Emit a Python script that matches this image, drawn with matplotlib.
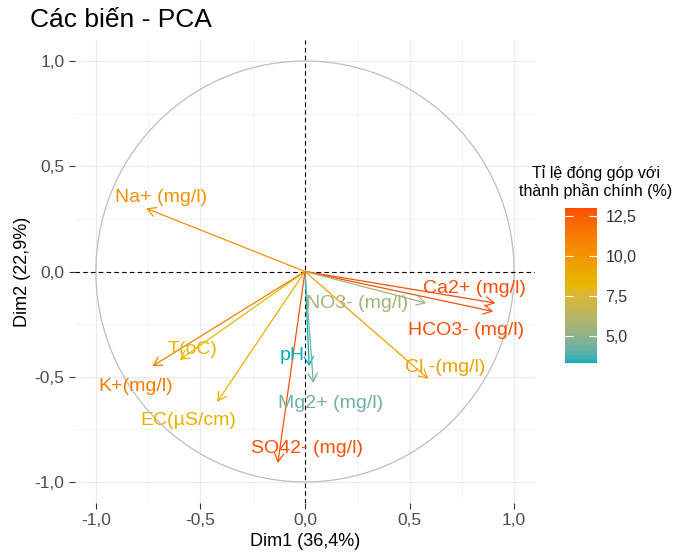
import numpy as np
import matplotlib.pyplot as plt
from matplotlib.colors import ListedColormap, Normalize, to_rgb
from matplotlib.cm import ScalarMappable

plt.rcParams['font.family'] = ['Liberation Sans', 'DejaVu Sans']

# variable coordinates on the first two dimensions
variables = ['Na+ (mg/l)', 'Ca2+ (mg/l)', 'HCO3- (mg/l)', 'NO3- (mg/l)', 'Cl -(mg/l)', 'pH',
             'Mg2+ (mg/l)', 'SO42- (mg/l)', 'EC(µS/cm)', 'T(oC)', 'K+(mg/l)']
dim1 = [-0.76, 0.91, 0.90, 0.58, 0.59, 0.02, 0.04, -0.13, -0.42, -0.60, -0.73]
dim2 = [0.30, -0.15, -0.19, -0.15, -0.51, -0.45, -0.53, -0.91, -0.62, -0.42, -0.45]
contrib = [10.2, 13.0, 12.9, 5.5, 9.4, 3.3, 4.3, 12.9, 8.5, 8.2, 11.2]

# where the labels ended up (repelled)
label_x = [-0.69, 0.81, 0.77, 0.25, 0.67, -0.06, 0.12, 0.01, -0.56, -0.54, -0.81]
label_y = [0.35, -0.08, -0.28, -0.15, -0.455, -0.40, -0.626, -0.84, -0.706, -0.37, -0.545]

ticks = [-1.0, -0.5, 0.0, 0.5, 1.0]
cbar_ticks = [5.0, 7.5, 10.0, 12.5]
gradient = ['#00AFBB', '#E7B800', '#FC4E07']


def comma(v):
    return '{:.1f}'.format(v).replace('.', ',')


# ggplot-like gradient: interpolate in CIE Lab
M = np.array([[0.4124, 0.3576, 0.1805], [0.2126, 0.7152, 0.0722], [0.0193, 0.1192, 0.9505]])
WHITE = np.array([0.95047, 1.0, 1.08883])


def to_lab(rgb):
    c = np.array(rgb)
    c = np.where(c <= 0.04045, c / 12.92, ((c + 0.055) / 1.055) ** 2.4)
    xyz = M @ c / WHITE
    f = np.where(xyz > 0.008856, np.cbrt(xyz), 7.787 * xyz + 16 / 116)
    return np.array([116 * f[1] - 16, 500 * (f[0] - f[1]), 200 * (f[1] - f[2])])


def from_lab(lab):
    fy = (lab[0] + 16) / 116
    f = np.array([fy + lab[1] / 500, fy, fy - lab[2] / 200])
    xyz = np.where(f ** 3 > 0.008856, f ** 3, (f - 16 / 116) / 7.787) * WHITE
    c = np.linalg.solve(M, xyz)
    c = np.where(c <= 0.0031308, 12.92 * c, 1.055 * np.clip(c, 0, None) ** (1 / 2.4) - 0.055)
    return np.clip(c, 0, 1)


labs = [to_lab(to_rgb(h)) for h in gradient]
cols = []
for s in np.linspace(0, 1, 256):
    seg = min(int(s * 2), 1)
    u = s * 2 - seg
    cols.append(from_lab(labs[seg] * (1 - u) + labs[seg + 1] * u))
cmap = ListedColormap(cols)
norm = Normalize(vmin=min(contrib), vmax=max(contrib))

fig = plt.figure(figsize=(6.75, 5.58), dpi=100)
ax = fig.add_axes([75 / 675, 1 - 503 / 558, 460 / 675, 463 / 558])

ax.set_xlim(-1.1, 1.1)
ax.set_ylim(-1.1, 1.1)
for s in ax.spines.values():
    s.set_visible(False)

# grid
for v in [-1.0, -0.5, 0.0, 0.5, 1.0]:
    ax.axvline(v, color='#EBEBEB', lw=0.9, zorder=0)
    ax.axhline(v, color='#EBEBEB', lw=0.9, zorder=0)
for v in [-0.75, -0.25, 0.25, 0.75]:
    ax.axvline(v, color='#F2F2F2', lw=0.6, zorder=0)
    ax.axhline(v, color='#F2F2F2', lw=0.6, zorder=0)

t = np.linspace(0, 2 * np.pi, 400)
ax.plot(np.cos(t), np.sin(t), color='#BEBEBE', lw=0.9, zorder=1)
ax.axhline(0, color='black', lw=0.8, ls=(0, (4, 3)), zorder=2)
ax.axvline(0, color='black', lw=0.8, ls=(0, (4, 3)), zorder=2)

for name, x, y, c, lx, ly in zip(variables, dim1, dim2, contrib, label_x, label_y):
    col = cmap(norm(c))
    ax.annotate('', xy=(x, y), xytext=(0, 0),
                arrowprops=dict(arrowstyle='->,head_length=0.5,head_width=0.28',
                                color=col, lw=0.9, shrinkA=0, shrinkB=0,
                                mutation_scale=12), zorder=3)
    ax.text(lx, ly, name, color=col, fontsize=14, ha='center', va='center', zorder=4)

ax.set_xticks(ticks)
ax.set_yticks(ticks)
ax.set_xticklabels([comma(v) for v in ticks])
ax.set_yticklabels([comma(v) for v in ticks])
ax.tick_params(labelsize=12.5, labelcolor='#4D4D4D', color='#333333', length=4, width=0.8)
ax.set_xlabel('Dim1 (36,4%)', fontsize=13, labelpad=3)
ax.set_ylabel('Dim2 (22,9%)', fontsize=13, labelpad=3)

fig.text(30 / 675, 1 - 27 / 558, 'Các biến - PCA', fontsize=19, va='baseline')

# colour bar
cax = fig.add_axes([565 / 675, 1 - 363 / 558, 32 / 675, 155 / 558])
cb = fig.colorbar(ScalarMappable(norm=norm, cmap=cmap), cax=cax)
cb.outline.set_visible(False)
cb.set_ticks(cbar_ticks)
cb.set_ticklabels([comma(v) for v in cbar_ticks])
cax.tick_params(left=True, right=True, labelleft=False, labelright=True, direction='in',
                color='white', length=6, width=0.8, labelsize=11.5, labelcolor='#333333', pad=6)
fig.text(596 / 675, 1 - 182 / 558, 'Tỉ lệ đóng góp với\nthành phần chính (%)',
         fontsize=11.5, ha='center', va='center', multialignment='center', linespacing=1.1)

fig.savefig('out.png', dpi=100)
